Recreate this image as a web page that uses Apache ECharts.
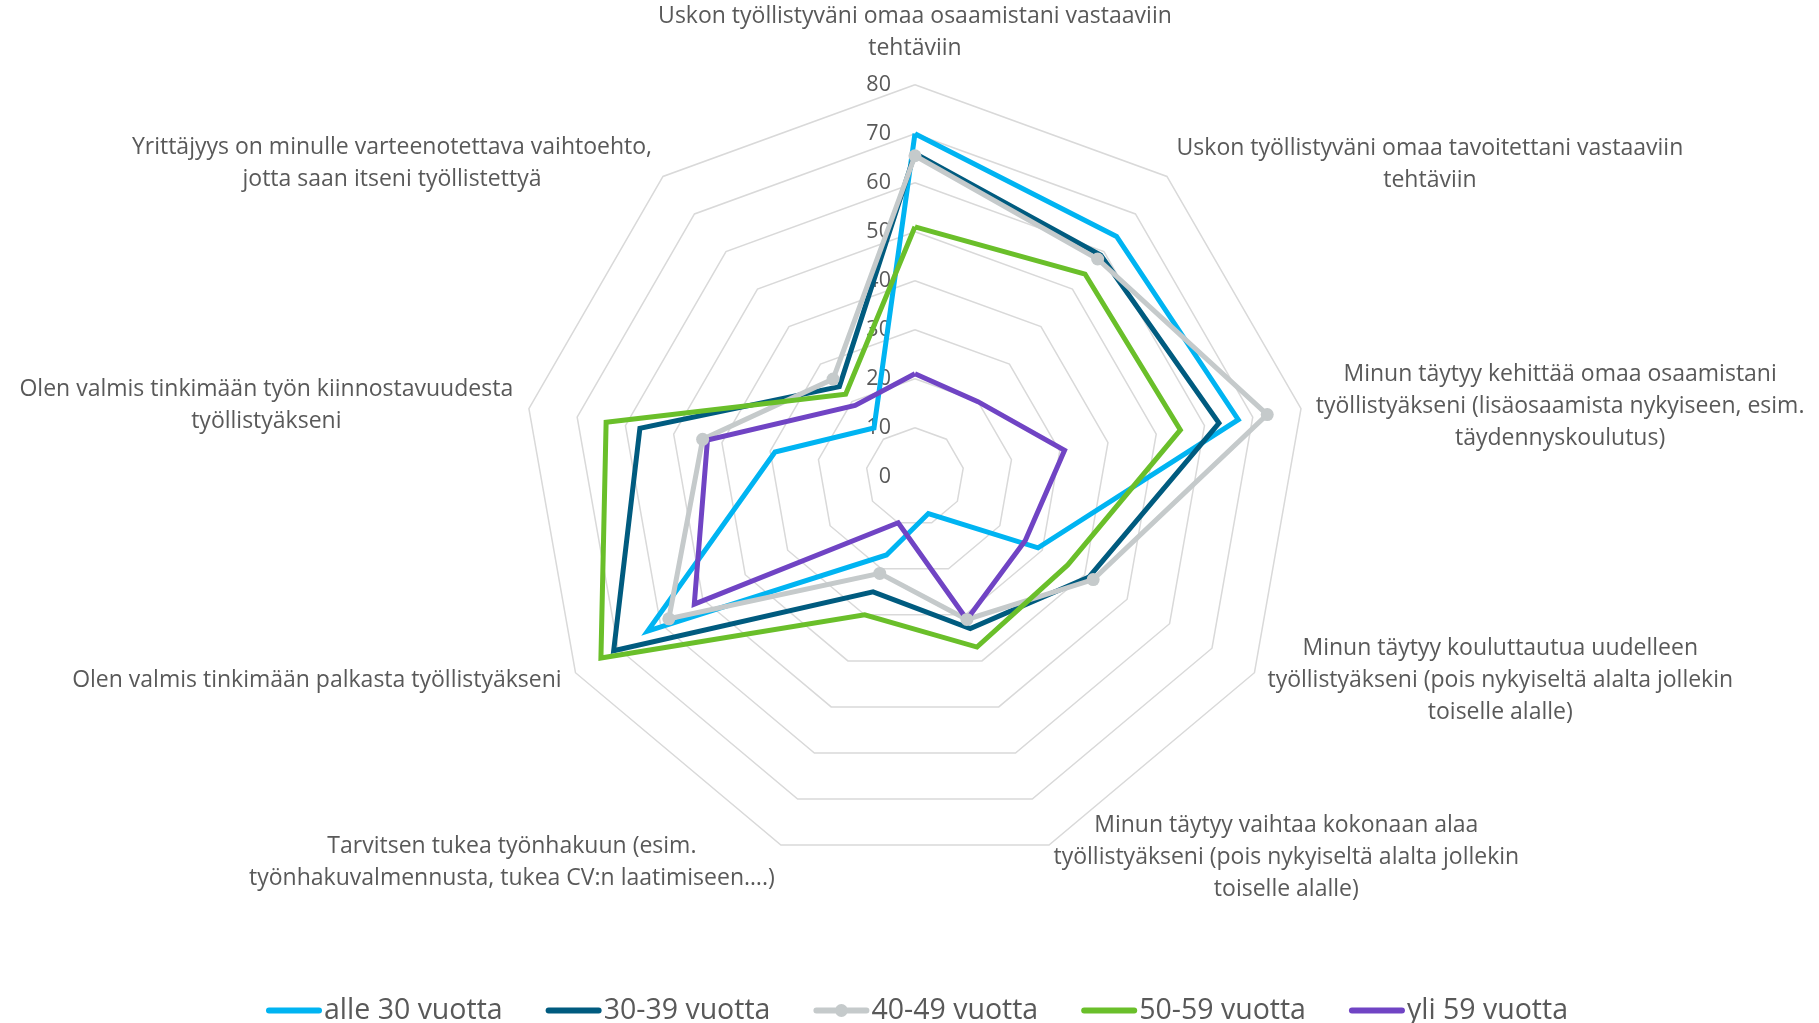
<!DOCTYPE html>
<html>
<head>
<meta charset="utf-8">
<script src="https://cdn.jsdelivr.net/npm/echarts@6/dist/echarts.min.js"></script>
<style>
html,body{margin:0;padding:0;background:#fff;}
#chart{width:1819px;height:1023px;}
</style>
</head>
<body>
<div id="chart"></div>
<script>
const indicators = [
  "Uskon työllistyväni omaa osaamistani vastaaviin\ntehtäviin",
  "Uskon työllistyväni omaa tavoitettani vastaaviin\ntehtäviin",
  "Minun täytyy kehittää omaa osaamistani\ntyöllistyäkseni (lisäosaamista nykyiseen, esim.\ntäydennyskoulutus)",
  "Minun täytyy kouluttautua uudelleen\ntyöllistyäkseni (pois nykyiseltä alalta jollekin\ntoiselle alalle)",
  "Minun täytyy vaihtaa kokonaan alaa\ntyöllistyäkseni (pois nykyiseltä alalta jollekin\ntoiselle alalle)",
  "Tarvitsen tukea työnhakuun (esim.\ntyönhakuvalmennusta, tukea CV:n laatimiseen….)",
  "Olen valmis tinkimään palkasta työllistyäkseni",
  "Olen valmis tinkimään työn kiinnostavuudesta\ntyöllistyäkseni",
  "Yrittäjyys on minulle varteenotettava vaihtoehto,\njotta saan itseni työllistettyä"
];
const seriesNames = ["alle 30 vuotta", "30-39 vuotta", "40-49 vuotta", "50-59 vuotta", "yli 59 vuotta"];
const alle30 = [70, 64, 67, 29, 8, 17, 63, 29, 13];
const v30_39 = [66, 59, 63, 41, 33, 25, 71, 57, 24];
const v40_49 = [65.5, 58, 73, 42, 31, 21, 58, 44, 26];
const v50_59 = [51, 54, 55, 36, 37, 30, 74, 64, 22];
const yli59 = [21, 20, 31, 26, 31, 10, 52, 43, 19];
const axisMax = 80;
const axisSplits = 8;

const colors = ["#00B4F2", "#005B7F", "#C5CACB", "#6ABF2A", "#7044C4"];
const values = [alle30, v30_39, v40_49, v50_59, yli59];
const nameGaps = [20, 15, 15, 15, 13, 18, 16, 16, 17];

// ECharts radar runs counter-clockwise; the reference runs clockwise from the top.
const order = [0].concat(indicators.map((_, i) => i).slice(1).reverse());
const reorder = arr => order.map(i => arr[i]);

const lineIcon = 'path://M0,0M56,14M3,4L53,4A3,3,0,0,1,53,10L3,10A3,3,0,0,1,3,4Z';
const markerIcon = lineIcon + 'M34.5,7A6.5,6.5,0,1,1,21.5,7A6.5,6.5,0,1,1,34.5,7Z';

const chart = echarts.init(document.getElementById('chart'), null, {renderer: 'canvas'});
const txt = '#595959';
const FS = 23;
chart.setOption({
  animation: false,
  color: colors,
  legend: {
    bottom: -7,
    left: 261,
    itemWidth: 56,
    itemHeight: 14,
    itemGap: 43,
    textStyle: {fontFamily: 'Open Sans', fontSize: 28.5, color: txt, padding: [0, 0, 0, -3]},
    data: seriesNames.map((n, i) => ({name: n, icon: i === 2 ? markerIcon : lineIcon}))
  },
  radar: {
    center: ['50.3%', '46.6%'],
    radius: 392,
    shape: 'polygon',
    startAngle: 90,
    splitNumber: axisSplits,
    axisLine: {show: false},
    splitArea: {show: false},
    splitLine: {lineStyle: {color: '#D9D9D9', width: 1.5}},
    axisTick: {show: false},
    axisLabel: {show: false, color: txt, fontFamily: 'Open Sans', fontSize: 21.5, margin: 24},
    axisName: {
      color: txt,
      fontFamily: 'Open Sans',
      fontSize: FS,
      formatter: function (name) {
        return name.split('\n').map(l => '{c|' + l + '}').join('\n');
      },
      rich: {c: {align: 'center', color: txt, fontFamily: 'Open Sans', fontSize: FS, lineHeight: 32}}
    },
    indicator: reorder(indicators).map((n, k) => {
      const o = {name: n, min: 0, max: axisMax, nameGap: nameGaps[order[k]]};
      if (k === 0) o.axisLabel = {show: true};
      return o;
    })
  },
  series: [{
    type: 'radar',
    data: values.map((v, i) => ({
      name: seriesNames[i],
      value: reorder(v),
      symbol: i === 2 ? 'circle' : 'none',
      symbolSize: 13,
      lineStyle: {color: colors[i], width: 5, join: 'miter'},
      itemStyle: {color: colors[i]}
    }))
  }]
});
</script>
</body>
</html>
